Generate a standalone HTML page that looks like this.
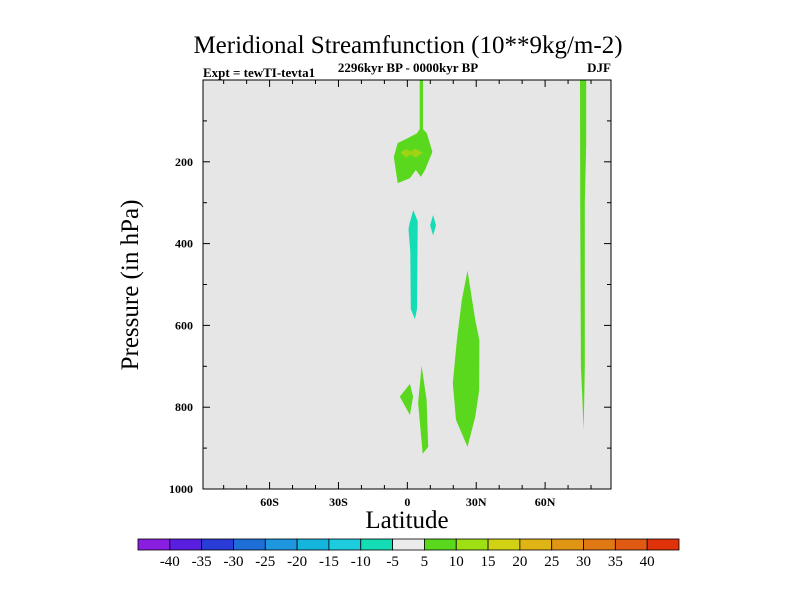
<!DOCTYPE html>
<html><head><meta charset="utf-8"><style>
body{margin:0;background:#fff}
svg{display:block;font-family:"Liberation Serif",serif}
</style></head><body>
<svg id="chart" width="800" height="600" viewBox="0 0 800 600" xmlns="http://www.w3.org/2000/svg">
<text x="408" y="53" text-anchor="middle" font-size="25">Meridional Streamfunction (10**9kg/m-2)</text>
<text x="203" y="77" font-size="13" font-weight="bold">Expt = tewTI-tevta1</text>
<text x="408" y="72" text-anchor="middle" font-size="13" font-weight="bold">2296kyr BP - 0000kyr BP</text>
<text x="611" y="72" text-anchor="end" font-size="13" font-weight="bold">DJF</text>
<rect x="203" y="80" width="408" height="409" fill="#e6e6e6"/>
<g id="contours"></g>
<rect x="203" y="80" width="408" height="409" fill="none" stroke="#000" stroke-width="1"/>
<g id="axes"></g>
<text transform="translate(138,285) rotate(-90)" text-anchor="middle" font-size="25">Pressure (in hPa)</text>
<text x="407" y="528" text-anchor="middle" font-size="25">Latitude</text>
<g id="colorbar"></g>
</svg>
<script>
const latTicks=[-60,-30,0,30,60];
const latLabels=["60S","30S","0","30N","60N"];
const presTicks=[200,400,600,800,1000];
const cbLevels=[-40,-35,-30,-25,-20,-15,-10,-5,5,10,15,20,25,30,35,40];
const cbColors=["#8a1ee0","#5a1ee0","#2a3cd8","#1e6ed8","#1e96e0","#14b4dc","#1ecce0","#14dcb4","#ebebeb","#5ad81e","#9ee014","#d2d214","#e0b414","#e09614","#e07814","#e05a14","#e0320a"];
const contourGreen=[
 [[5.4,0],[6.8,0],[6.8,120],[8.5,130],[10.9,176],[7.7,220],[5.9,237],[3.7,220],[1.1,240],[-4.2,252],[-5.9,188],[-4.2,154],[0.2,142],[4.2,130],[5.4,120]],
 [[75.2,0],[77.9,0],[77.9,160],[77.3,300],[77.3,700],[76.8,856],[75.6,700],[75.3,300]],
 [[26.2,466],[29.6,587],[31.4,636],[31.3,758],[29.6,823],[26.2,897],[21.2,831],[19.8,741],[21.6,636],[23.7,538]],
 [[-3.3,774],[1.1,743],[2.5,774],[1.1,819]],
 [[6.2,699],[8.4,782],[9.1,897],[6.7,914],[4.7,790]]
];
const contourYellow=[[[-3,178],[-0.5,168],[1.5,175],[3.5,168],[6.8,178],[3.5,190],[1.5,182],[-0.5,190]]];
const contourCyan=[
 [[2.6,318],[4.5,345],[4.4,450],[4.2,560],[3.3,585],[1.5,560],[1.3,420],[0.5,365],[1.0,350]],
 [[11.2,330],[12.5,355],[11.2,380],[9.9,355]]
];
const NS="http://www.w3.org/2000/svg";
const X0=203,X1=611,Y0=80,Y1=489;
const xs=lat=>X0+(lat+89)*(X1-X0)/(177.7);
const ys=p=>Y0+p*(Y1-Y0)/1000;
function mk(tag,attrs,parent){const e=document.createElementNS(NS,tag);for(const k in attrs)e.setAttribute(k,attrs[k]);parent.appendChild(e);return e;}
const cg=document.getElementById('contours');
function drawPolys(list,color,name){list.forEach(poly=>{
 const e=mk('polygon',{points:poly.map(q=>xs(q[0]).toFixed(1)+','+ys(q[1]).toFixed(1)).join(' '),fill:color},cg);
 
 
});}
drawPolys(contourGreen,"#5ad81e","contour-5-10");
drawPolys(contourYellow,"#9ed414","contour-10-15");
drawPolys(contourCyan,"#14dcb4","contour-neg10-neg5");
const ax=document.getElementById('axes');
for(let lat=-80;lat<=80;lat+=10){
 const x=xs(lat),major=lat%30===0,l=major?7:4;
 let t=mk('line',{x1:x,x2:x,y1:Y1,y2:Y1-l,stroke:'#000'},ax);
 
 
 t=mk('line',{x1:x,x2:x,y1:Y0,y2:Y0+l,stroke:'#000'},ax);
 
 
}
latTicks.forEach((lat,i)=>{
 const t=mk('text',{x:xs(lat),y:Y1+17,'text-anchor':'middle','font-size':12,'font-weight':'bold'},ax);t.textContent=latLabels[i];
 
 
});
for(let p=100;p<1000;p+=100){
 const y=ys(p),l=p%200===0?7:4;
 let t=mk('line',{x1:X0,x2:X0+l,y1:y,y2:y,stroke:'#000'},ax);
 
 
 t=mk('line',{x1:X1,x2:X1-l,y1:y,y2:y,stroke:'#000'},ax);
 
 
}
presTicks.forEach(p=>{
 const t=mk('text',{x:X0-10,y:ys(p)+4,'text-anchor':'end','font-size':12,'font-weight':'bold'},ax);t.textContent=p;
 
 
});
const cb=document.getElementById('colorbar');
const CB0=138,CB1=679,bw=(CB1-CB0)/cbColors.length;
cbColors.forEach((c,i)=>{
 const r=mk('rect',{x:CB0+i*bw,y:539,width:bw,height:11,fill:c,stroke:'#000','stroke-width':0.8},cb);
 
 
});
cbLevels.forEach((v,i)=>{
 const t=mk('text',{x:CB0+(i+1)*bw,y:566,'text-anchor':'middle','font-size':15},cb);t.textContent=v;
 
 
});
</script>
</body></html>
